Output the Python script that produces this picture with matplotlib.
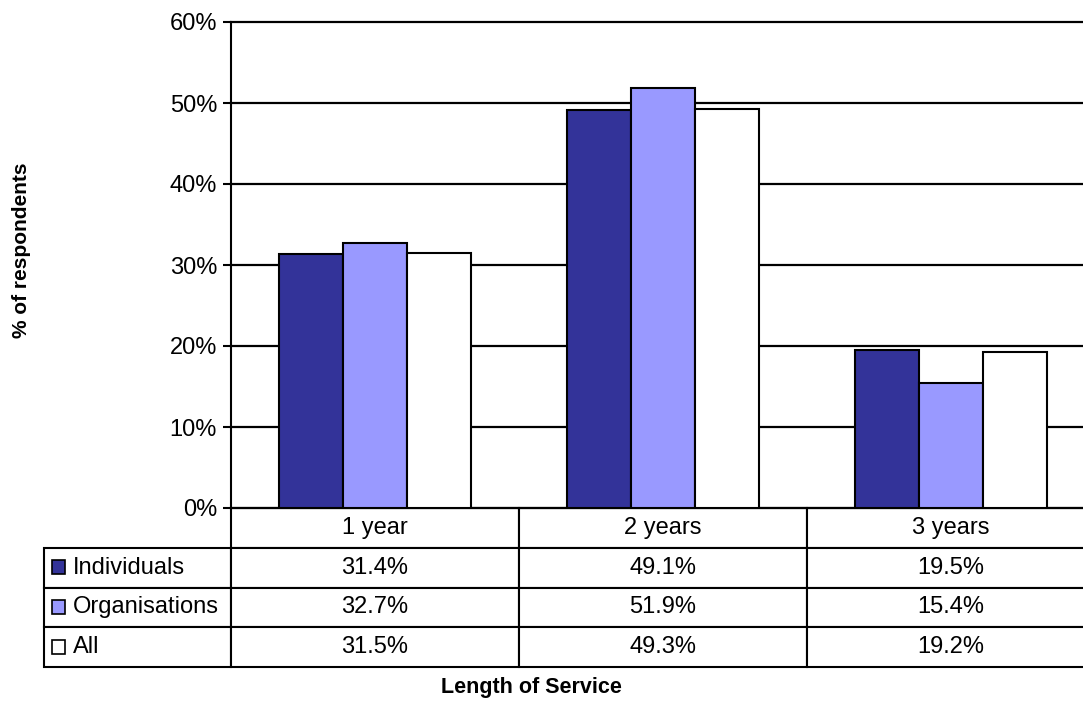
import matplotlib.pyplot as plt
import numpy as np
from matplotlib.table import Table
from matplotlib.patches import Rectangle

plt.rcParams['font.family'] = ['Liberation Sans', 'DejaVu Sans']

categories = ["1 year", "2 years", "3 years"]
series_names = ["Individuals", "Organisations", "All"]
individuals = [31.4, 49.1, 19.5]
organisations = [32.7, 51.9, 15.4]
everyone = [31.5, 49.3, 19.2]
colors = ["#333399", "#9999FF", "#FFFFFF"]
yticks = [0, 10, 20, 30, 40, 50, 60]

series = [individuals, organisations, everyone]

fig = plt.figure(figsize=(10.83, 7.07), dpi=100)
# right edge runs past the canvas on purpose, last column is cut off
ax = fig.add_axes([231 / 1083, 1 - 508 / 707, 864 / 1083, 486 / 707])

x = np.arange(len(categories))
width = 0.222
for i, vals in enumerate(series):
    ax.bar(x + (i - 1) * width, vals, width, color=colors[i],
           edgecolor="black", linewidth=1.5, zorder=3)

ax.set_xlim(-0.5, len(categories) - 0.5)
ax.set_ylim(0, 60)
ax.set_yticks(yticks)
ax.set_yticklabels([f"{v}%" for v in yticks], fontsize=17)
ax.set_xticks([])
ax.yaxis.grid(True, color="black", linewidth=1.6, zorder=0)
for gl in ax.yaxis.get_gridlines():
    gl.set_clip_on(False)
ax.tick_params(axis="y", direction="out", length=6, width=1.5, pad=4)
for side in ("top", "right", "bottom"):
    ax.spines[side].set_visible(False)
ax.spines["left"].set_linewidth(1.5)

# data table under the bars
tbl = Table(ax, bbox=[-187 / 864, -159 / 486, 1051 / 864, 159 / 486])
col_w = [187, 288, 288, 288]
row_h = 40
for j, cat in enumerate(categories):
    tbl.add_cell(0, j + 1, width=col_w[j + 1], height=row_h, text=cat,
                 loc="center", facecolor="white")
for r, name in enumerate(series_names):
    c = tbl.add_cell(r + 1, 0, width=col_w[0], height=row_h, text=name,
                     loc="left", facecolor="white")
    c.PAD = 29 / 187
    for j in range(len(categories)):
        tbl.add_cell(r + 1, j + 1, width=col_w[j + 1], height=row_h,
                     text=f"{series[r][j]:.1f}%", loc="center",
                     facecolor="white")
tbl.auto_set_font_size(False)
tbl.set_fontsize(17)
for cell in tbl.get_celld().values():
    cell.set_linewidth(1.5)
    cell.set_edgecolor("black")
ax.add_table(tbl)

# legend keys in the row label cells
for r in range(len(series_names)):
    cy = 567 + r * 40
    ax.add_patch(Rectangle(((52 - 231) / 864, (508 - cy - 7) / 486),
                           13 / 864, 14 / 486, transform=ax.transAxes,
                           facecolor=colors[r], edgecolor="black",
                           linewidth=1.2, clip_on=False, zorder=5))

fig.text(531 / 1083, 1 - 687 / 707, "Length of Service", ha="center",
         va="center", fontsize=15.5, fontweight="bold")
fig.text(22 / 1083, 1 - 250 / 707, "% of respondents", ha="center",
         va="center", rotation=90, fontsize=15, fontweight="bold")

fig.savefig("out.png", dpi=100)
